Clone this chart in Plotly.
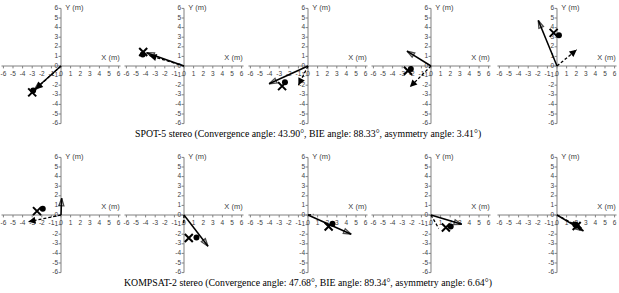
import plotly.graph_objects as go

W, H = 619, 293
ticks = list(range(-6, 7))

# Panel data (metres): solid arrow tip, dashed arrow tip, X marker, dot marker
solid_x = [-2.8, -3.9, -4.05, -2.5, -1.95, 0.07, 2.5, 4.5, 3.2, 2.75]
solid_y = [-2.5, 1.38, -1.85, 1.55, 4.75, 1.75, -3.25, -2.0, -0.97, -1.65]
dash_x = [-2.65, -3.6, -1.0, -2.2, 2.05, -3.4, -0.03, 0.55, 0.8, 2.6]
dash_y = [-2.4, 1.1, -2.0, -2.2, 1.7, -0.7, -0.95, 0.08, -1.4, -1.4]
cross_x = [-3.0, -4.25, -2.7, -2.4, -0.35, -2.5, 0.5, 2.15, 1.55, 2.05]
cross_y = [-2.75, 1.45, -2.1, -0.5, 3.45, 0.4, -2.4, -1.2, -1.3, -1.15]
dot_x = [-2.9, -4.3, -2.4, -2.1, 0.2, -1.9, 1.3, 2.55, 2.05, 1.9]
dot_y = [-2.55, 1.2, -1.7, -0.3, 3.2, 0.65, -2.35, -0.9, -1.2, -1.0]

captions = [
    "SPOT-5 stereo (Convergence angle: 43.90°, BIE angle: 88.33°, asymmetry angle: 3.41°)",
    "KOMPSAT-2 stereo (Convergence angle: 47.68°, BIE angle: 89.34°, asymmetry angle: 6.64°)",
]

panel_ox = [61, 184, 308, 431, 557]
row_oy = [66, 215]
S = 9.6
XR, YR = 6.3, 6.35
AX_COL = "#808080"
LBL_COL = "#404040"
TFONT = dict(family="Liberation Sans, Arial", size=6.5, color=LBL_COL)

fig = go.Figure()
layout = dict(width=W, height=H, margin=dict(l=0, r=0, t=0, b=0),
              paper_bgcolor="white", plot_bgcolor="white", showlegend=False)
annotations = []

for i in range(10):
    r, c = divmod(i, 5)
    ox, oy = panel_ox[c], row_oy[r]
    xd = [max(0, (ox - XR * S) / W), min(1, (ox + XR * S) / W)]
    yd = [max(0, 1 - (oy + YR * S) / H), min(1, 1 - (oy - YR * S) / H)]
    sfx = "" if i == 0 else str(i + 1)
    layout["xaxis" + sfx] = dict(domain=xd, range=[-XR, XR], visible=False,
                                 anchor="y" + sfx, fixedrange=True)
    layout["yaxis" + sfx] = dict(domain=yd, range=[-YR, YR], visible=False,
                                 anchor="x" + sfx, fixedrange=True)
    xa, ya = "x" + sfx, "y" + sfx

    # axis lines
    fig.add_trace(go.Scatter(x=[-6.2, 6.2, None, 0, 0], y=[0, 0, None, -6, 6],
                             mode="lines", line=dict(color=AX_COL, width=1),
                             xaxis=xa, yaxis=ya, hoverinfo="skip"))
    # tick marks
    tx, ty = [], []
    for t in ticks:
        tx += [t, t, None]
        ty += [0, -0.25, None]
        tx += [0, -0.25, None]
        ty += [t, t, None]
    fig.add_trace(go.Scatter(x=tx, y=ty, mode="lines",
                             line=dict(color=AX_COL, width=1),
                             xaxis=xa, yaxis=ya, hoverinfo="skip"))
    # tick labels
    fig.add_trace(go.Scatter(x=ticks, y=[-0.9] * len(ticks), text=[str(t) for t in ticks],
                             mode="text", textfont=TFONT, textposition="middle center",
                             xaxis=xa, yaxis=ya, cliponaxis=False, hoverinfo="skip"))
    fig.add_trace(go.Scatter(x=[-0.3] * len(ticks), y=ticks, text=[str(t) for t in ticks],
                             mode="text", textfont=TFONT, textposition="middle left",
                             xaxis=xa, yaxis=ya, cliponaxis=False, hoverinfo="skip"))
    fig.add_trace(go.Scatter(x=[0.45, 4.2], y=[6.0, 0.85], text=["Y (m)", "X (m)"],
                             mode="text", textfont=dict(family="Liberation Sans, Arial", size=7.5, color=LBL_COL),
                             textposition="middle right",
                             xaxis=xa, yaxis=ya, cliponaxis=False, hoverinfo="skip"))

    # dashed arrow shaft
    fig.add_trace(go.Scatter(x=[0, dash_x[i]], y=[0, dash_y[i]], mode="lines",
                             line=dict(color="black", width=1.3, dash="3px,2px"),
                             xaxis=xa, yaxis=ya, cliponaxis=False, hoverinfo="skip"))
    # dashed arrow head (short annotation arrow along the same vector)
    annotations.append(dict(x=dash_x[i], y=dash_y[i], ax=dash_x[i] * 0.8, ay=dash_y[i] * 0.8,
                            xref=xa, yref=ya, axref=xa, ayref=ya, text="",
                            showarrow=True, arrowhead=2, arrowsize=1.1, arrowwidth=1.3,
                            arrowcolor="black"))
    # solid arrow
    fig.add_trace(go.Scatter(x=[0, solid_x[i]], y=[0, solid_y[i]], mode="lines+markers",
                             line=dict(color="black", width=1.5),
                             marker=dict(symbol="arrow-open", size=[0, 8], color="black",
                                         angleref="previous", line=dict(width=1.3, color="black")),
                             xaxis=xa, yaxis=ya, cliponaxis=False, hoverinfo="skip"))
    # markers
    fig.add_trace(go.Scatter(x=[cross_x[i]], y=[cross_y[i]], mode="markers",
                             marker=dict(symbol="x-thin-open", size=8, color="black",
                                         line=dict(width=2, color="black")),
                             xaxis=xa, yaxis=ya, cliponaxis=False, hoverinfo="skip"))
    fig.add_trace(go.Scatter(x=[dot_x[i]], y=[dot_y[i]], mode="markers",
                             marker=dict(symbol="circle", size=6, color="black"),
                             xaxis=xa, yaxis=ya, cliponaxis=False, hoverinfo="skip"))

annotations += [
    dict(text=captions[0], x=307.5 / W, y=1 - 134 / H, xref="paper", yref="paper",
         showarrow=False, xanchor="center", yanchor="middle",
         font=dict(family="Liberation Serif, Times New Roman", size=9.8, color="black")),
    dict(text=captions[1], x=307.5 / W, y=1 - 283 / H, xref="paper", yref="paper",
         showarrow=False, xanchor="center", yanchor="middle",
         font=dict(family="Liberation Serif, Times New Roman", size=9.8, color="black")),
]
layout["annotations"] = annotations
fig.update_layout(**layout)
fig.write_html("out.html")
